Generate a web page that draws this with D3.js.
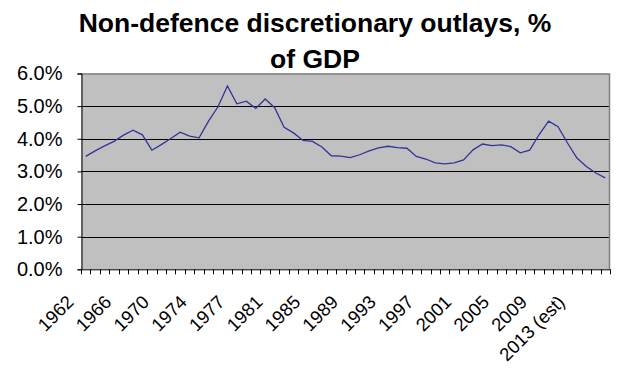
<!DOCTYPE html>
<html>
<head>
<meta charset="utf-8">
<script src="https://cdn.jsdelivr.net/npm/d3@7"></script>
<style>
  body { margin: 0; background: #fff; }
  .title { font-family: "Liberation Sans", Arial, sans-serif; font-weight: bold; font-size: 26.5px; }
  .yAxis text { font-family: "Liberation Sans", Arial, sans-serif; font-size: 20px; fill: #000; }
  .xAxis text { font-family: "Liberation Sans", Arial, sans-serif; font-size: 18.5px; fill: #000; }
</style>
</head>
<body>
<div id="chart"></div>
<script>
// Non-defence discretionary outlays chart

// Categories (TQ = transition quarter, 1976)
var years = ["1962", "1963", "1964", "1965", "1966", "1967", "1968", "1969", "1970",
  "1971", "1972", "1973", "1974", "1975", "1976", "TQ", "1977", "1978", "1979",
  "1980", "1981", "1982", "1983", "1984", "1985", "1986", "1987", "1988", "1989",
  "1990", "1991", "1992", "1993", "1994", "1995", "1996", "1997", "1998", "1999",
  "2000", "2001", "2002", "2003", "2004", "2005", "2006", "2007", "2008", "2009",
  "2010", "2011", "2012", "2013 (est)", "2014", "2015", "2016"];

// Outlays, % of GDP
var outlays = [3.46, 3.63, 3.78, 3.92, 4.11, 4.26, 4.12, 3.65, 3.82, 4.01,
  4.20, 4.08, 4.03, 4.54, 4.98, 5.62, 5.07, 5.15, 4.93, 5.22,
  4.95, 4.35, 4.18, 3.95, 3.92, 3.75, 3.48, 3.47, 3.42, 3.51,
  3.63, 3.72, 3.77, 3.73, 3.71, 3.46, 3.38, 3.26, 3.23, 3.26,
  3.35, 3.66, 3.84, 3.79, 3.81, 3.76, 3.57, 3.65, 4.13, 4.54,
  4.37, 3.87, 3.41, 3.15, 2.95, 2.80];

// Labelled categories on the x axis
var xLabels = ["1962", "1966", "1970", "1974", "1977", "1981", "1985", "1989",
  "1993", "1997", "2001", "2005", "2009", "2013 (est)"];

// y ticks
var yTicks = [0, 1, 2, 3, 4, 5, 6];

var width = 620;
var height = 380;

// plot box
var plotLeft = 81;
var plotRight = 610;
var plotTop = 73.5;
var plotBottom = 269.3;

var svg = d3
  .select("#chart")
  .append("svg")
  .attr("width", width)
  .attr("height", height);

// Title
svg.append("text")
  .attr("class", "title")
  .attr("x", 315)
  .attr("y", 32)
  .attr("text-anchor", "middle")
  .text("Non-defence discretionary outlays, %");
svg.append("text")
  .attr("class", "title")
  .attr("x", 315)
  .attr("y", 68)
  .attr("text-anchor", "middle")
  .text("of GDP");

// Scales
var xScale = d3.scaleBand()
  .domain(years)
  .range([plotLeft, plotRight])
  .padding(0);

var yScale = d3.scaleLinear()
  .domain([0, 6])
  .range([plotBottom, plotTop]);

// Plot background
svg.append("rect")
  .attr("x", plotLeft)
  .attr("y", plotTop)
  .attr("width", plotRight - plotLeft)
  .attr("height", plotBottom - plotTop)
  .attr("fill", "#c0c0c0");

// Gridlines
svg.append("g")
  .selectAll("line")
  .data(yTicks.filter(function(d) { return d > 0 && d < 6; }))
  .enter()
  .append("line")
  .attr("x1", plotLeft)
  .attr("x2", plotRight)
  .attr("y1", function(d) { return Math.round(yScale(d)) + 0.5; })
  .attr("y2", function(d) { return Math.round(yScale(d)) + 0.5; })
  .attr("stroke", "#000")
  .attr("stroke-width", 1);

// Gray border on top and right
svg.append("path")
  .attr("d", "M" + plotLeft + "," + (plotTop + 0.5) + "H" + (plotRight - 0.5) + "V" + plotBottom)
  .attr("fill", "none")
  .attr("stroke", "#808080")
  .attr("stroke-width", 1.5);

// The line
var line = d3.line()
  .x(function(d, i) { return xScale(years[i]) + xScale.bandwidth() / 2; })
  .y(function(d) { return yScale(d); });

svg.append("path")
  .datum(outlays)
  .attr("d", line)
  .attr("fill", "none")
  .attr("stroke", "#33339a")
  .attr("stroke-width", 1.3);

// Y axis
var yAxis = d3.axisLeft(yScale)
  .tickValues(yTicks)
  .tickSize(4)
  .tickPadding(15)
  .tickFormat(function(d) { return d3.format(".1f")(d) + "%"; });

svg.append("g")
  .attr("class", "yAxis")
  .attr("transform", "translate(" + (plotLeft + 0.5) + ",0)")
  .call(yAxis)
  .call(function(g) { g.select(".domain").attr("stroke", "#000"); });

// Tick marks between categories along the bottom
var boundaries = years.map(function(y) { return xScale(y); }).concat([plotRight]);
svg.append("g")
  .selectAll("line")
  .data(boundaries)
  .enter()
  .append("line")
  .attr("x1", function(d) { return Math.round(d) + 0.5; })
  .attr("x2", function(d) { return Math.round(d) + 0.5; })
  .attr("y1", plotBottom)
  .attr("y2", plotBottom + 5)
  .attr("stroke", "#000");

// X axis labels (rotated)
var xAxis = d3.axisBottom(xScale)
  .tickValues(xLabels)
  .tickSize(0);

var xG = svg.append("g")
  .attr("class", "xAxis")
  .attr("transform", "translate(0," + plotBottom + ")")
  .call(xAxis);

xG.select(".domain")
  .attr("d", "M" + plotLeft + ",0.5H" + plotRight)
  .attr("stroke", "#000");

xG.selectAll("text")
  .attr("x", 0)
  .attr("y", 0)
  .attr("dy", 0)
  .attr("text-anchor", "end")
  .attr("transform", "translate(-11,34) rotate(-45)");
</script>
</body>
</html>
